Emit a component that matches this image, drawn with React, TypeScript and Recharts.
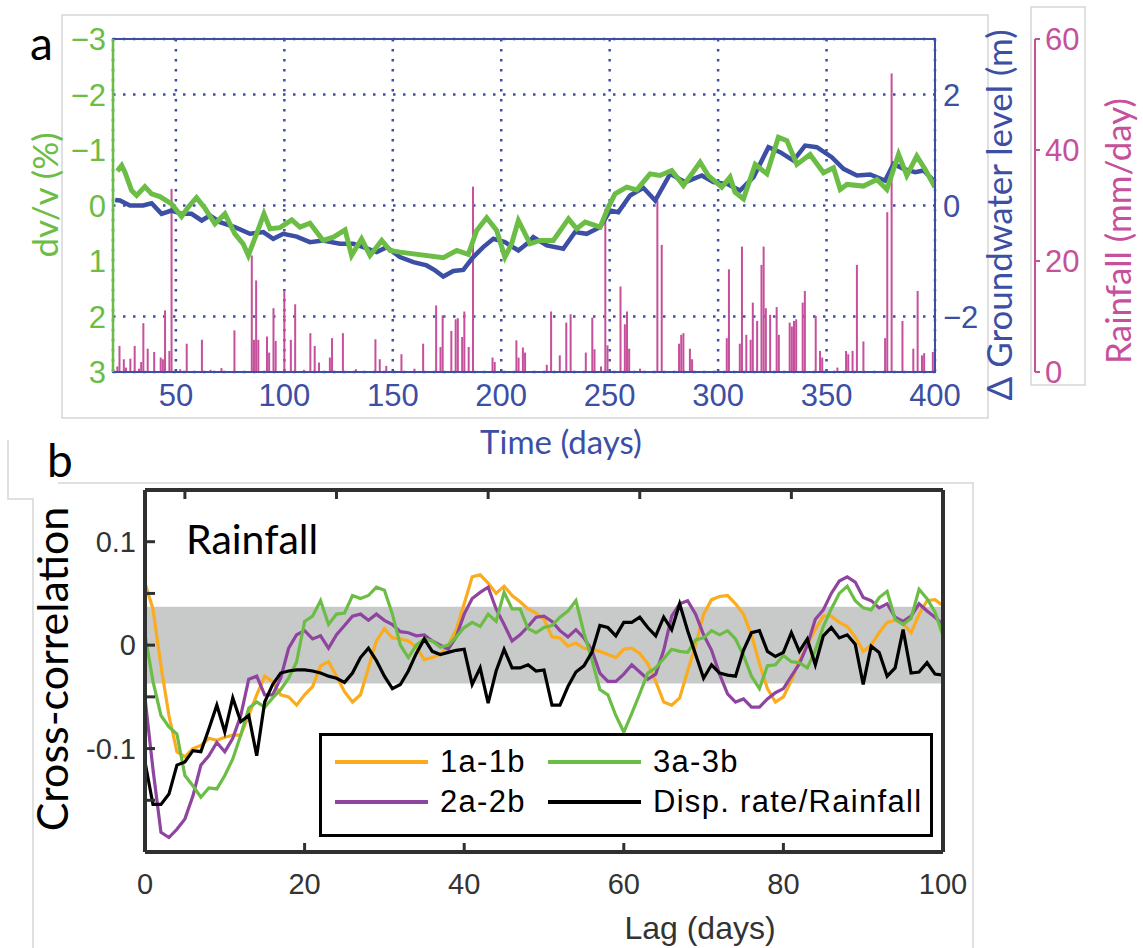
import React from "react";
import {
  ComposedChart, LineChart, Line, Bar, XAxis, YAxis,
  CartesianGrid, ReferenceArea, Legend,
} from "recharts";

// ---------- panel a: time series ----------
const timeTicks = [50, 100, 150, 200, 250, 300, 350, 400];
const dvTicks = [-3, -2, -1, 0, 1, 2, 3];
const gwTicks = [-2, 0, 2];
const rainTicks = [0, 20, 40, 60];

// dv/v (%) – green
const dvDays = [
  23, 25, 26.5, 29.6, 31.9, 35.7, 38.8, 42.6, 48, 52.6,
  55.7, 59.5, 63.4, 68, 72.6, 77.2, 81, 83.4, 87.2, 90.6,
  93.4, 98, 103.4, 107.2, 111.8, 117.9, 122.6, 128, 131, 135.6,
  139.5, 144.9, 148.7, 153.3, 173.3, 179.5, 184.8, 188.7, 193.3, 197.9,
  201.7, 204.8, 207.9, 213.3, 217.9, 224, 231, 234.8, 238.7, 245.6,
  249.4, 252.5, 257.9, 262.5, 268.6, 273.2, 278.6, 284, 291.7, 295.5,
  301.7, 305.5, 307.8, 311.7, 317.1, 322.5, 327.8, 331.7, 336.3, 342.4,
  348.6, 353.2, 356.3, 359.4, 367, 373.2, 377.8, 383.2, 387, 391.6,
  395.5, 400,
];
const dvValues = [
  -0.62, -0.72, -0.6, -0.27, -0.18, -0.34, -0.21, -0.16, -0.03, 0.2,
  0.03, -0.14, 0.05, 0.33, 0.15, 0.51, 0.69, 0.9, 0.51, 0.15,
  0.42, 0.4, 0.26, 0.39, 0.32, 0.63, 0.57, 0.44, 0.9, 0.6,
  0.9, 0.63, 0.81, 0.84, 0.94, 0.81, 0.88, 0.45, 0.22, 0.45,
  0.93, 0.69, 0.27, 0.69, 0.63, 0.63, 0.24, 0.42, 0.3, 0.39,
  0.03, -0.21, -0.33, -0.28, -0.57, -0.54, -0.63, -0.36, -0.78, -0.54,
  -0.33, -0.51, -0.24, -0.12, -0.74, -0.57, -1.23, -1.17, -0.74, -0.92,
  -0.59, -0.68, -0.29, -0.38, -0.35, -0.47, -0.29, -0.92, -0.54, -0.89,
  -0.65, -0.33,
];

// groundwater level change (m) – blue
const gwDays = [
  22, 24.2, 28.8, 34.9, 38.8, 43.4, 48, 52.6, 57.2, 61.9,
  65.7, 70.3, 77.2, 84.1, 90.3, 94.9, 99.5, 105.7, 111.8, 117.9,
  125.6, 131.8, 136.4, 142.6, 147.2, 153.3, 159.5, 165.6, 169.5, 173.3,
  177.9, 182.5, 187.1, 191.7, 196.4, 201.7, 207.9, 211.8, 214.8, 221,
  228.6, 234, 239.4, 245.6, 250.2, 254, 259.4, 265.5, 271, 277.9,
  284.8, 292.5, 297.8, 304, 310.1, 316.3, 323.2, 328.6, 334.7, 340.1,
  345.5, 352.4, 357.8, 364, 370.1, 377, 380.9, 385.5, 390.9, 394.7,
  399.3,
];
const gwValues = [
  0.1, 0.09, 0, 0, 0.04, -0.15, -0.09, -0.15, -0.15, -0.27,
  -0.18, -0.3, -0.39, -0.51, -0.48, -0.6, -0.51, -0.56, -0.66, -0.63,
  -0.69, -0.69, -0.75, -0.84, -0.75, -0.93, -1.02, -1.08, -1.17, -1.28,
  -1.18, -1.16, -0.93, -0.75, -0.6, -0.66, -0.81, -0.69, -0.57, -0.72,
  -0.78, -0.48, -0.51, -0.39, -0.09, -0.12, 0.18, 0.32, 0.09, 0.57,
  0.42, 0.54, 0.42, 0.39, 0.27, 0.51, 1.05, 0.96, 0.81, 1.08,
  1.05, 0.87, 0.66, 0.54, 0.56, 0.45, 0.75, 0.66, 0.6, 0.63,
  0.45,
];

// daily rainfall (mm/day) – magenta bars
const rainDays = [
  23, 24, 26, 27, 29, 31, 33, 34, 35, 37,
  40, 43, 44, 45, 47, 48, 52, 55, 62, 66,
  71, 77, 85, 86, 87, 88, 92, 93, 95, 96,
  100, 103, 105, 109, 112, 114, 116, 121, 122, 127,
  133, 142, 144, 147, 154, 160, 164, 170, 172, 173,
  177, 179, 180, 182, 183, 185, 187, 196, 197, 207,
  208, 210, 211, 221, 223, 227, 230, 232, 239, 242,
  243, 246, 248, 249, 255, 257, 258, 259, 264, 272,
  274, 282, 283, 284, 287, 288, 304, 305, 310, 311,
  313, 315, 316, 318, 320, 321, 322, 324, 327, 328,
  333, 334, 335, 336, 339, 340, 345, 347, 348, 355,
  359, 360, 362, 364, 367, 377, 378, 380, 385, 390,
  392, 394, 395, 399,
];
const rainMm = [
  1.0, 4.7, 2.3, 0.8, 2.4, 4.7, 0.6, 1.8, 8.8, 4.2,
  3.6, 2.6, 2.3, 11.1, 3.8, 33, 0.5, 5.1, 5.8, 0.4,
  0.7, 7.5, 21, 5.8, 16.5, 5.8, 6.4, 3.5, 11.5, 5.6,
  14.5, 5.8, 12.2, 0.4, 7, 4.7, 1.7, 2.6, 6.1, 7,
  0.5, 5.9, 2.3, 1.1, 3.2, 0.6, 5.1, 12, 4.5, 10.2,
  7.4, 9.5, 9.7, 6.3, 10.9, 4.5, 33.4, 2.6, 1.8, 5.7,
  2.6, 4.4, 3.5, 1.3, 10.9, 3.0, 8.9, 10.4, 3.5, 9.8,
  4.1, 1.0, 29.4, 4.8, 15.4, 8.6, 10.9, 4.2, 0.6, 30.9,
  22.9, 5.1, 6.7, 7.0, 4.2, 2.3, 6.1, 18.5, 5.1, 22.6,
  6.7, 5.8, 12.5, 9.2, 19.3, 22.6, 11.5, 10.3, 11.7, 6.7,
  8.9, 8.2, 9.2, 9.5, 12.5, 14.6, 10.1, 3.8, 2.6, 0.8,
  3.8, 3.2, 3.8, 19.3, 5.5, 6.1, 28.8, 53.8, 9.2, 4.2,
  14.6, 3.0, 3.4, 3.6,
];

// ---------- panel b: cross-correlation ----------
const lags = [
  0, 1, 2, 3, 4, 5, 6, 7, 8, 9,
  10, 11, 12, 13, 14, 15, 16, 17, 18, 19,
  20, 21, 22, 23, 24, 25, 26, 27, 28, 29,
  30, 31, 32, 33, 34, 35, 36, 37, 38, 39,
  40, 41, 42, 43, 44, 45, 46, 47, 48, 49,
  50, 51, 52, 53, 54, 55, 56, 57, 58, 59,
  60, 61, 62, 63, 64, 65, 66, 67, 68, 69,
  70, 71, 72, 73, 74, 75, 76, 77, 78, 79,
  80, 81, 82, 83, 84, 85, 86, 87, 88, 89,
  90, 91, 92, 93, 94, 95, 96, 97, 98, 99,
  100,
];
const lagTicks = [0, 20, 40, 60, 80, 100];
const topTicks = [5, 24, 43, 62, 81];
const ccTicks = [-0.2, -0.15, -0.1, -0.05, 0, 0.05, 0.1, 0.15];
const bandLimit = 0.037;

const cc1a1b = [
  0.06, 0.035, -0.02, -0.068, -0.103, -0.108, -0.1, -0.097, -0.09, -0.092,
  -0.089, -0.087, -0.087, -0.068, -0.048, -0.03, -0.035, -0.048, -0.05, -0.058,
  -0.048, -0.04, -0.02, -0.016, -0.03, -0.045, -0.055, -0.048, -0.022, 0.004,
  0.016, 0.007, 0.006, 0.004, -0.002, -0.014, -0.012, -0.009, 0.0, 0.015,
  0.04, 0.066, 0.068, 0.06, 0.05, 0.057, 0.048, 0.042, 0.035, 0.031,
  0.025, 0.008, 0.007, -0.001, 0.002, -0.003, -0.004, -0.006, -0.009, -0.012,
  -0.004, -0.003, -0.008, -0.018, -0.035, -0.055, -0.058, -0.051, -0.025, 0.0,
  0.03, 0.044, 0.047, 0.048, 0.04, 0.03, 0.01, -0.018, -0.042, -0.055,
  -0.05, -0.034, -0.015, 0.0, 0.015, 0.028, 0.028, 0.022, 0.018, 0.008,
  -0.006, 0.0, 0.012, 0.022, 0.024, 0.021, 0.012, 0.03, 0.043, 0.044,
  0.038,
];
const cc2a2b = [
  -0.051, -0.12, -0.181, -0.186, -0.178, -0.168, -0.146, -0.116, -0.107, -0.094,
  -0.103, -0.09, -0.068, -0.033, -0.03, -0.048, -0.048, -0.032, -0.003, 0.01,
  0.014, 0.006, 0.009, -0.003, 0.01, 0.019, 0.028, 0.03, 0.024, 0.03,
  0.024, 0.02, 0.013, 0.012, 0.009, 0.01, 0.004, 0.0, -0.004, 0.008,
  0.03, 0.045, 0.051, 0.056, 0.035, 0.02, 0.004, 0.01, 0.018, 0.027,
  0.028, 0.023, 0.014, 0.008, 0.015, 0.007, -0.005, -0.027, -0.035, -0.035,
  -0.028, -0.019, -0.026, -0.033, -0.028, -0.005, 0.028, 0.04, 0.043, 0.03,
  0.01, -0.005, -0.028, -0.047, -0.055, -0.052, -0.06, -0.06, -0.052, -0.046,
  -0.042, -0.03, -0.018, 0.0, 0.025, 0.034, 0.05, 0.062, 0.066, 0.061,
  0.046, 0.043, 0.036, 0.04, 0.027, 0.023, 0.028, 0.04, 0.033, 0.027,
  0.02,
];
const cc3a3b = [
  0.01, -0.035, -0.068, -0.079, -0.086, -0.126, -0.136, -0.147, -0.138, -0.139,
  -0.126, -0.11, -0.087, -0.061, -0.055, -0.06, -0.051, -0.043, -0.032, -0.016,
  0.023, 0.028, 0.043, 0.02, 0.03, 0.031, 0.048, 0.045, 0.048, 0.056,
  0.053, 0.03, 0.0, -0.012, 0.0, 0.006, 0.004, -0.002, 0.0, 0.008,
  0.017, 0.022, 0.018, 0.03, 0.023, 0.051, 0.035, 0.035, 0.016, 0.012,
  0.017, 0.019, 0.027, 0.033, 0.043, 0.012, -0.014, -0.043, -0.048, -0.068,
  -0.084, -0.066, -0.047, -0.027, -0.022, -0.013, -0.004, -0.006, -0.007, 0.005,
  0.007, 0.014, 0.01, 0.014, 0.006, -0.01, -0.03, -0.042, -0.02, -0.019,
  -0.01, -0.016, -0.017, -0.022, -0.005, 0.018, 0.035, 0.05, 0.057, 0.043,
  0.036, 0.034, 0.046, 0.052, 0.025, 0.02, 0.026, 0.054, 0.045, 0.032,
  0.009,
];
const ccDisp = [
  -0.113, -0.154, -0.154, -0.144, -0.116, -0.113, -0.102, -0.103, -0.081, -0.058,
  -0.084, -0.051, -0.074, -0.068, -0.107, -0.055, -0.038, -0.027, -0.025, -0.024,
  -0.024, -0.025, -0.027, -0.03, -0.032, -0.036, -0.027, -0.012, -0.003, -0.015,
  -0.03, -0.042, -0.038, -0.025, -0.008, 0.006, -0.006, -0.009, -0.007, -0.005,
  -0.004, -0.038, -0.022, -0.056, -0.025, -0.004, -0.022, -0.022, -0.019, -0.025,
  -0.024, -0.058, -0.058, -0.04, -0.026, -0.02, -0.007, 0.019, 0.017, 0.009,
  0.022, 0.022, 0.027, 0.017, 0.009, 0.027, 0.015, 0.04, 0.014, -0.009,
  -0.032, -0.019, -0.027, -0.029, -0.03, -0.005, 0.012, 0.014, -0.006, -0.011,
  -0.007, 0.012, -0.006, 0.006, -0.019, 0.009, 0.017, 0.007, 0.01, 0.001,
  -0.038, -0.001, -0.007, -0.03, -0.022, 0.015, -0.027, -0.026, -0.017, -0.028,
  -0.029,
];

const legendNames = ["1a-1b", "3a-3b", "2a-2b", "Disp. rate/Rainfall"];

const BLUE = "#3c4fa4";
const GREEN = "#6bbd45";
const PINK = "#c6509b";
const ORANGE = "#fbac1e";
const PURPLE = "#8f45a0";
const AX = "#2f3030";
const SANS = "Liberation Sans, Arial, sans-serif";
const CAL = "Lato, sans-serif";

const legendColors = [ORANGE, GREEN, PURPLE, "#000"];

const dvData = dvDays.map((d, i) => ({ day: d, dv: dvValues[i] }));
const gwData = gwDays.map((d, i) => ({ day: d, gw: gwValues[i] }));
const rainData = rainDays.map((d, i) => ({ day: d, rain: rainMm[i] }));
const ccData = lags.map((l, i) => ({
  lag: l, s1: cc1a1b[i], s2: cc2a2b[i], s3: cc3a3b[i], s4: ccDisp[i],
}));

const minus = (v: number) => (v < 0 ? "\u2212" + Math.abs(v) : String(v));

const rotText = (text: string, x: number, y: number, color: string, size: number) => () => (
  <text
    x={x} y={y} transform={`rotate(-90 ${x} ${y})`}
    textAnchor="middle" dominantBaseline="central"
    fill={color} fontSize={size} fontFamily={CAL}
  >
    {text}
  </text>
);

// thin rain stems, centred on the bar slot
const RainStem = (p: any) => {
  const h = Math.max(0, p.height || 0);
  if (!h) return null;
  return <rect x={p.x + p.width / 2 - 1} y={p.y} width={2} height={h} fill={PINK} />;
};

const PanelA = () => (
  <ComposedChart
    width={1143} height={460} data={rainData}
    margin={{ top: 39, right: 38, bottom: 58, left: 53 }}
  >
    <CartesianGrid
      xAxisId="t" yAxisId="gw" stroke={BLUE} strokeWidth={2.5}
      strokeDasharray="2.5 7.5" fill="none"
    />
    <XAxis
      xAxisId="t" dataKey="day" type="number" domain={[21, 400]}
      ticks={timeTicks} allowDataOverflow height={30}
      tickSize={0} tickMargin={12}
      axisLine={{ stroke: BLUE, strokeWidth: 2 }}
      tick={{ fill: BLUE, fontSize: 31, fontFamily: SANS }}
      label={() => (
        <text x={561} y={441} textAnchor="middle" dominantBaseline="central"
          fill={BLUE} fontSize={33} fontFamily={CAL}>Time (days)</text>
      )}
    />
    <YAxis
      yAxisId="dv" orientation="left" reversed domain={[-3, 3]}
      ticks={dvTicks} width={60} tickSize={0} tickMargin={7}
      tickFormatter={minus} allowDataOverflow
      axisLine={{ stroke: GREEN, strokeWidth: 2.5 }}
      tick={{ fill: GREEN, fontSize: 31, fontFamily: SANS }}
      label={rotText("dv/v (%)", 44, 195, GREEN, 35)}
    />
    <YAxis
      yAxisId="gw" orientation="right" domain={[-3, 3]}
      ticks={gwTicks} width={100} tickSize={0} tickMargin={8}
      tickFormatter={minus} allowDataOverflow
      axisLine={{ stroke: BLUE, strokeWidth: 2 }}
      tick={{ fill: BLUE, fontSize: 31, fontFamily: SANS }}
      label={rotText("\u0394 Groundwater level (m)", 998, 215, BLUE, 35)}
    />
    <YAxis
      yAxisId="rain" orientation="right" domain={[0, 60]}
      ticks={rainTicks} width={70} tickSize={5} tickMargin={5}
      axisLine={{ stroke: PINK, strokeWidth: 2 }}
      tickLine={{ stroke: PINK, strokeWidth: 2 }}
      tick={{ fill: PINK, fontSize: 31, fontFamily: SANS }}
      label={rotText("Rainfall (mm/day)", 1117, 231, PINK, 35)}
    />
    <Bar
      xAxisId="t" yAxisId="rain" dataKey="rain" fill={PINK}
      barSize={2} shape={RainStem} isAnimationActive={false}
    />
    <Line
      xAxisId="t" yAxisId="gw" data={gwData} dataKey="gw" type="linear"
      stroke={BLUE} strokeWidth={4.5} dot={false} isAnimationActive={false}
    />
    <Line
      xAxisId="t" yAxisId="dv" data={dvData} dataKey="dv" type="linear"
      stroke={GREEN} strokeWidth={5} dot={false} isAnimationActive={false}
    />
    <ReferenceArea
      xAxisId="t" yAxisId="gw" x1={21} x2={400} y1={-3} y2={3}
      fill="none" fillOpacity={0} stroke={BLUE} strokeWidth={2}
    />
  </ComposedChart>
);

const renderLegend = () => (
  <div
    style={{
      position: "relative", width: 608, height: 98,
      border: "3px solid #000", background: "#fff",
    }}
  >
    {legendNames.map((name, i) => (
      <div
        key={name}
        style={{
          position: "absolute", left: 13 + (i % 2) * 213,
          top: 6 + Math.floor(i / 2) * 40, height: 40,
          display: "flex", alignItems: "center", whiteSpace: "nowrap",
        }}
      >
        <span style={{ display: "inline-block", width: 93, height: 4, background: legendColors[i] }} />
        <span style={{ marginLeft: 12, fontSize: 31, letterSpacing: 1.3, fontFamily: SANS, color: "#000" }}>{name}</span>
      </div>
    ))}
  </div>
);

const ccFormat = (v: number) => {
  const r = Math.round(v * 10) / 10;
  if (Math.abs(v - r) > 1e-6 || Math.abs(v) > 0.12) return "";
  return r === 0 ? "0" : String(r);
};

const PanelB = () => (
  <LineChart
    width={1143} height={508} data={ccData}
    margin={{ top: 49, right: 199, bottom: 36, left: 70 }}
  >
    <ReferenceArea
      x1={0} x2={100} y1={-bandLimit} y2={bandLimit}
      fill="#c8c9c9" fillOpacity={1} stroke="none"
    />
    <XAxis
      dataKey="lag" type="number" domain={[0, 100]} ticks={lagTicks}
      height={60} tickSize={-9} tickMargin={30}
      axisLine={{ stroke: AX, strokeWidth: 4 }}
      tickLine={{ stroke: AX, strokeWidth: 3 }}
      tick={{ fill: "#333", fontSize: 29, fontFamily: SANS }}
      label={() => (
        <text x={700} y={488} textAnchor="middle" dominantBaseline="central"
          fill="#333" fontSize={32} fontFamily={SANS}>Lag (days)</text>
      )}
    />
    <XAxis
      xAxisId="top" orientation="top" type="number" domain={[0, 100]}
      ticks={topTicks} height={1} tickSize={-9} tickFormatter={() => ""}
      axisLine={{ stroke: AX, strokeWidth: 4 }}
      tickLine={{ stroke: AX, strokeWidth: 3 }}
    />
    <YAxis
      domain={[-0.2, 0.15]} ticks={ccTicks} width={75}
      tickSize={-10} tickMargin={19} tickFormatter={ccFormat}
      axisLine={{ stroke: AX, strokeWidth: 4 }}
      tickLine={{ stroke: AX, strokeWidth: 3 }}
      tick={{ fill: "#333", fontSize: 29, fontFamily: SANS }}
      label={rotText("Cross-correlation", 51, 229, "#000", 43)}
    />
    <YAxis
      yAxisId="r" orientation="right" domain={[-0.2, 0.15]} ticks={ccTicks}
      width={1} tickSize={-10} tickFormatter={() => ""}
      axisLine={{ stroke: AX, strokeWidth: 4 }}
      tickLine={{ stroke: AX, strokeWidth: 3 }}
    />
    <Line dataKey="s1" stroke={ORANGE} strokeWidth={3.2} dot={false} isAnimationActive={false} />
    <Line dataKey="s2" stroke={PURPLE} strokeWidth={3.2} dot={false} isAnimationActive={false} />
    <Line dataKey="s3" stroke={GREEN} strokeWidth={3.2} dot={false} isAnimationActive={false} />
    <Line dataKey="s4" stroke="#000" strokeWidth={3.2} dot={false} isAnimationActive={false} />
    <Legend
      layout="horizontal" verticalAlign="middle" align="center"
      content={renderLegend}
      wrapperStyle={{ left: 319, top: 293, width: 614, height: 104 }}
    />
  </LineChart>
);

export default function App() {
  return (
    <div style={{ position: "absolute", left: 0, top: 0, width: 1143, height: 948, background: "#fff", overflow: "hidden" }}>
      <svg width={1143} height={948} style={{ position: "absolute", left: 0, top: 0 }}>
        <g stroke="#d6d6d6" strokeWidth={1.5} fill="none">
          <rect x={62} y={15} width={926} height={403} />
          <rect x={1031} y={7} width={54} height={378} />
          <polyline points="8,440 8,499 33,499 33,948" />
          <polyline points="58,483 973,483 973,948" />
        </g>
        <text x={30} y={60} fontSize={46} fontFamily={CAL} fill="#000">a</text>
        <text x={47} y={477} fontSize={46} fontFamily={CAL} fill="#000">b</text>
        <text x={186} y={554} fontSize={41} fontFamily={CAL} fill="#000">Rainfall</text>
      </svg>
      <div style={{ position: "absolute", left: 0, top: 0 }}>
        <PanelA />
      </div>
      <div style={{ position: "absolute", left: 0, top: 440 }}>
        <PanelB />
      </div>
    </div>
  );
}
